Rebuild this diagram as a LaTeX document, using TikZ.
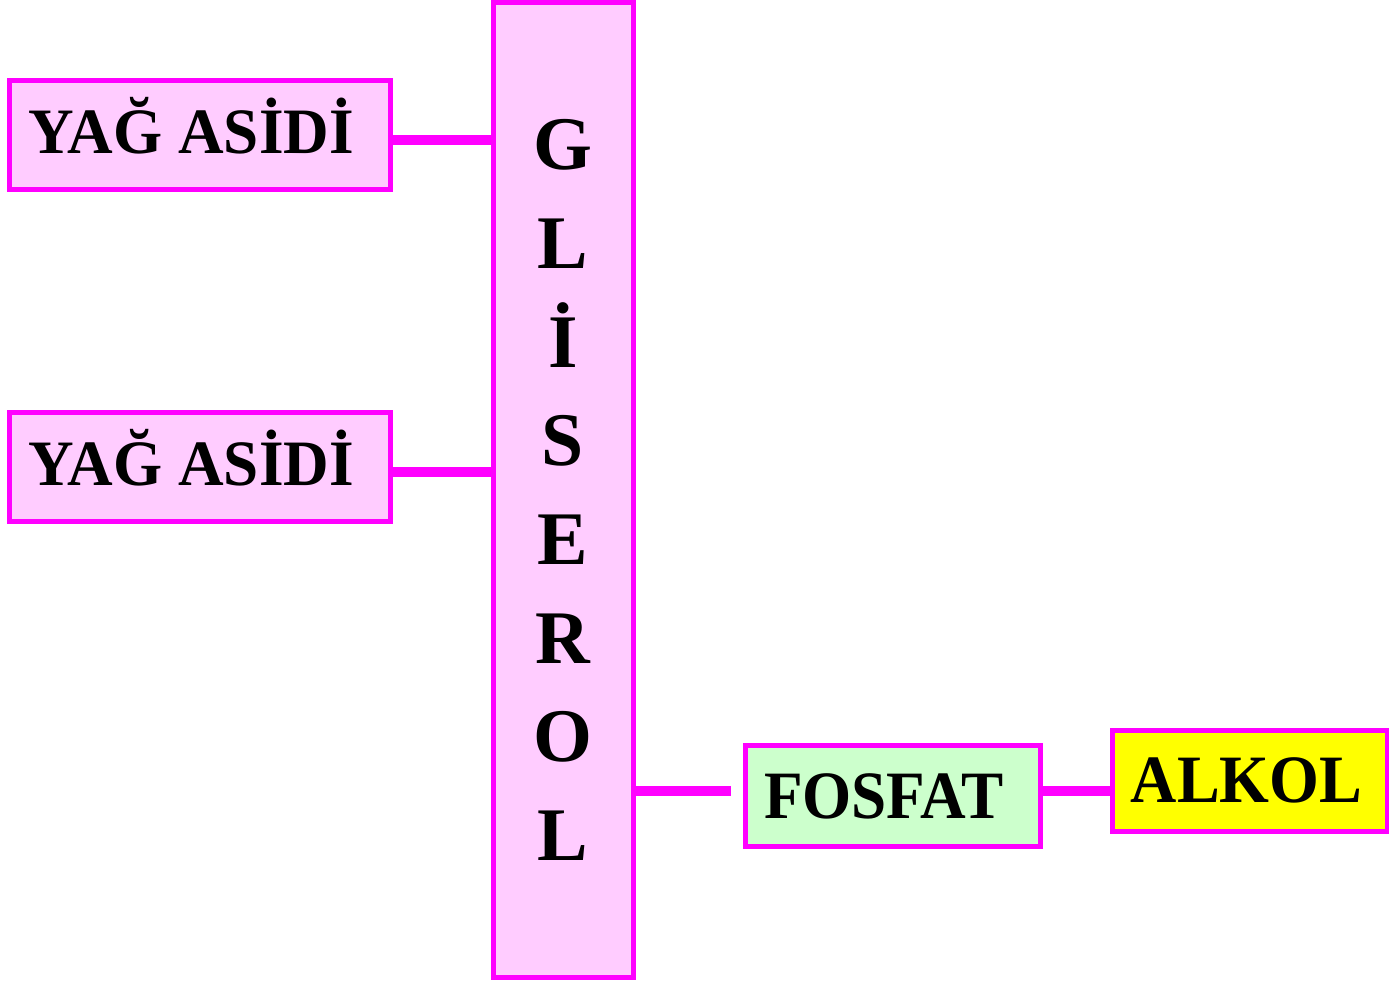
\documentclass[tikz,border=0pt]{standalone}
\usepackage{fontspec}
\setmainfont{Liberation Serif}
\usetikzlibrary{calc}
\definecolor{mag}{HTML}{FF00FF}
\definecolor{pinkfill}{HTML}{FFCCFF}
\definecolor{greenfill}{HTML}{CCFFCC}
\definecolor{yellowfill}{HTML}{FFFF00}
% #1 horizontal scale, #2 left shift of text, #3 baseline below centre, #4 text
\newcommand\boxtext[4]{\raisebox{-#3}[0pt][0pt]{\scalebox{#1}[1]{#4}}\hspace*{#2}}
\begin{document}
\begin{tikzpicture}[x=1bp,y=-1bp,
  box/.style={draw=mag,line width=5bp,rectangle,inner sep=0pt,font=\bfseries\fontsize{65}{70}\selectfont},
  conn/.style={draw=mag,line width=10bp}]
\useasboundingbox (0,0) rectangle (1389,983);
\node[box,fill=pinkfill,minimum width=380bp,minimum height=109bp] (yag1) at (200,134.5) {\boxtext{0.975}{18bp}{18.5bp}{YAĞ ASİDİ}};
\node[box,fill=pinkfill,minimum width=380bp,minimum height=109bp] (yag2) at (200,466.5) {\boxtext{0.975}{18bp}{18.5bp}{YAĞ ASİDİ}};
\node[box,fill=pinkfill,minimum width=140bp,minimum height=975bp,align=center,font=\bfseries\fontsize{76}{99}\selectfont] (glis) at (563,490) {G\\L\\İ\\S\\E\\R\\O\\L};
\node[box,fill=greenfill,minimum width=295bp,minimum height=101bp,font=\bfseries\fontsize{68}{70}\selectfont] (fosfat) at (892.5,795.5) {\boxtext{0.933}{17bp}{22.5bp}{FOSFAT}};
\node[box,fill=yellowfill,minimum width=275bp,minimum height=101bp,font=\bfseries\fontsize{68}{70}\selectfont] (alkol) at (1249.5,780.5) {\boxtext{0.946}{6bp}{21.5bp}{ALKOL}};
\coordinate (c1) at ($(yag1.east)+(0,5)$);
\coordinate (c2) at ($(yag2.east)+(0,5)$);
\coordinate (c3) at ($(fosfat.west)+(-12,-5)$);
\draw[conn] (c1) -- (c1 -| glis.west);
\draw[conn] (c2) -- (c2 -| glis.west);
\draw[conn] (c3 -| glis.east) -- (c3);
\draw[conn] (c3 -| fosfat.east) -- (c3 -| alkol.west);
\end{tikzpicture}
\end{document}
